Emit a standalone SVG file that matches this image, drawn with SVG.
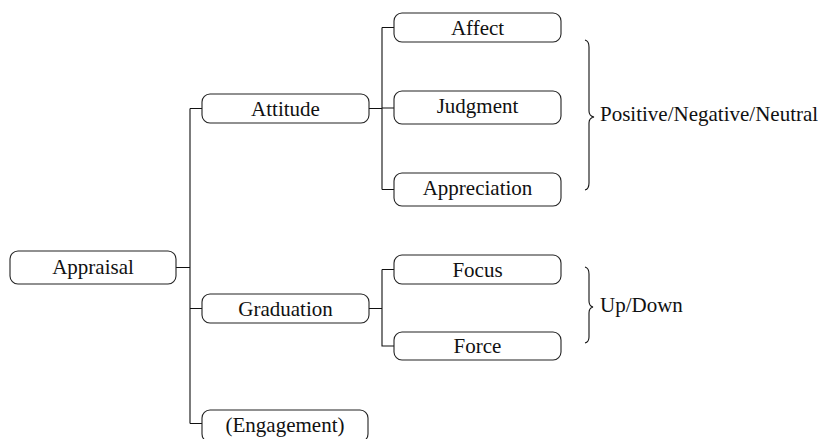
<svg xmlns="http://www.w3.org/2000/svg" width="818" height="439" viewBox="0 0 818 439">
<style>
.box{fill:#fff;stroke:#222;stroke-width:1.1}
.lbl{font-family:"Liberation Serif","Times New Roman",serif;font-size:21px;fill:#111;text-anchor:middle}
.side{font-family:"Liberation Serif","Times New Roman",serif;font-size:21px;fill:#111}
.ln{fill:none;stroke:#111;stroke-width:1.1}
</style>
<rect width="818" height="439" fill="#fff"/>
<g id="connectors" class="ln">
<path d="M176 267.5H190M190 108.5V423.5M190 108.5H202M190 308.5H202M190 423.5H202"/>
<path d="M369 108.5H382M382 27.5V189.5M382 27.5H394M382 108H394M382 189.5H394"/>
<path d="M369 308.5H382M382 269.5V346H394M382 269.5H394"/>
</g>
<g id="appraisal"><rect class="box" x="10" y="251" width="166" height="33" rx="8"/><text class="lbl" x="93" y="274">Appraisal</text></g>
<g id="attitude"><rect class="box" x="202" y="94" width="167" height="29" rx="8"/><text class="lbl" x="285.5" y="115.5">Attitude</text></g>
<g id="graduation"><rect class="box" x="202" y="294" width="167" height="29" rx="8"/><text class="lbl" x="285.5" y="315.5">Graduation</text></g>
<g id="engagement"><rect class="box" x="202" y="410" width="166" height="32" rx="8"/><text class="lbl" x="285" y="432">(Engagement)</text></g>
<g id="affect"><rect class="box" x="394" y="13" width="167" height="29" rx="8"/><text class="lbl" x="477.5" y="34.5">Affect</text></g>
<g id="judgment"><rect class="box" x="394" y="91" width="167" height="33" rx="8"/><text class="lbl" x="477.5" y="113">Judgment</text></g>
<g id="appreciation"><rect class="box" x="394" y="173" width="167" height="33" rx="8"/><text class="lbl" x="477.5" y="195">Appreciation</text></g>
<g id="focus"><rect class="box" x="394" y="255" width="167" height="29" rx="8"/><text class="lbl" x="477.5" y="276.5">Focus</text></g>
<g id="force"><rect class="box" x="394" y="332" width="167" height="28" rx="8"/><text class="lbl" x="477.5" y="353">Force</text></g>
<g id="brace1">
<path class="ln" d="M585 40Q589 41 589 47V111Q589 116 594 117Q589 118 589 123V183Q589 189 585 190"/>
<text class="side" x="600" y="121">Positive/Negative/Neutral</text>
</g>
<g id="brace2">
<path class="ln" d="M585 267Q589 268 589 274V301Q589 306 593 307Q589 308 589 313V337Q589 342 585 343"/>
<text class="side" x="600" y="312">Up/Down</text>
</g>
</svg>
